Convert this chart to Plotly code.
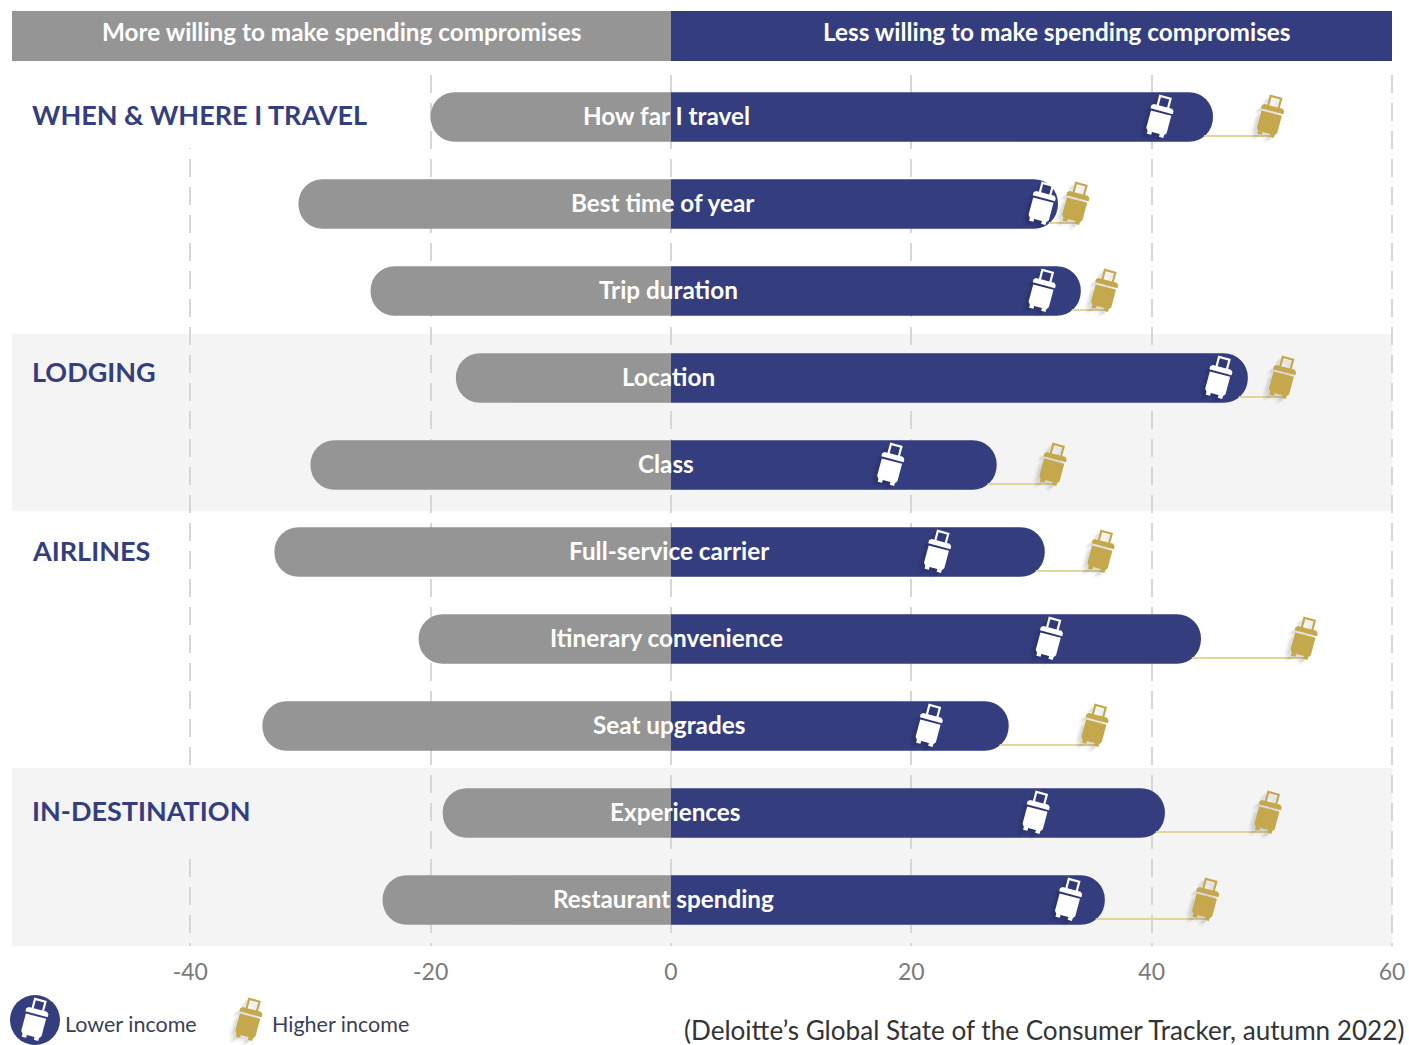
import math
import plotly.graph_objects as go

categories = ["How far I travel", "Best time of year", "Trip duration", "Location", "Class",
              "Full-service carrier", "Itinerary convenience", "Seat upgrades", "Experiences",
              "Restaurant spending"]
more_willing = [-20, -31, -25, -17.9, -30, -33, -21, -34, -19, -24]
less_willing = [45.1, 32.2, 34.1, 48, 27.1, 31.1, 44.1, 28.1, 41.1, 36.1]
lower_income = [40.7, 30.9, 30.9, 45.6, 18.3, 22.2, 31.5, 21.5, 30.4, 33.1]
higher_income = [49.9, 33.7, 36.1, 50.9, 31.8, 35.8, 52.7, 35.3, 49.7, 44.5]
label_x = [-0.4, -0.7, -0.2, -0.2, -0.4, -0.2, -0.4, -0.2, 0.35, -0.6]
tick_vals = [-40, -20, 0, 20, 40, 60]
sections = ["WHEN &amp; WHERE I TRAVEL", "LODGING", "AIRLINES", "IN-DESTINATION"]
section_rows = [-0.03, 2.93, 4.98, 7.97]
header_left = "More willing to make spending compromises"
header_right = "Less willing to make spending compromises"
source = "(Deloitte\u2019s Global State of the Consumer Tracker, autumn 2022)"

GREY = "#959595"
NAVY = "#343e7f"
GOLD = "#c5a84b"
LEAD = "#e2d59b"
BAND = "#f4f4f4"
FONT = "Lato"

W, H, TOP, BOT = 1409, 1045, 75, 946
PPU = 12.017
X0 = 671
xr = [(0 - X0) / PPU, (W - X0) / PPU]
yr = [(BOT - 117) / 87, (TOP - 117) / 87]


def px_x(p):
    return p / W


def px_y(p):
    return (BOT - p) / (BOT - TOP)


def dx(p):
    return (p - X0) / PPU


def dy(p):
    return (p - 117) / 87


def rot(pts, a=-15):
    c, s = math.cos(math.radians(a)), math.sin(math.radians(a))
    return [(x * c - y * s, x * s + y * c) for x, y in pts]


def poly(pts, ox=0, oy=0):
    r = rot(pts)
    return "M" + " L".join(f"{x + ox:.2f},{y + oy:.2f}" for x, y in r) + " Z"


def suitcase_path(ox=0, oy=0):
    body_low = [(-10.5, -14), (-8.5, -16.5), (8.5, -16.5), (10.5, -14), (10.5, 4), (-10.5, 4)]
    body_up = [(-11.5, 6), (11.5, 6), (11.5, 9), (9.5, 11), (-9.5, 11), (-11.5, 9)]
    h_o = [(-6.5, 11), (-6.5, 21.5), (6.5, 21.5), (6.5, 11)]
    h_i = [(-4.3, 11), (-4.3, 19.3), (4.3, 19.3), (4.3, 11)]
    w1 = [(-8.5, -16.5), (-4, -16.5), (-4, -19.5), (-8.5, -19.5)]
    w2 = [(4, -16.5), (8.5, -16.5), (8.5, -19.5), (4, -19.5)]
    return " ".join(poly(p, ox, oy) for p in [body_low, body_up, h_o, h_i, w1, w2])


def suitcase(x, y, color, ref="x", yref="y"):
    out = []
    for off, op in [(7, 0.03), (5, 0.05), (3, 0.06)]:
        out.append(dict(type="path", layer="above", xref=ref, yref=yref, xsizemode="pixel", ysizemode="pixel",
                        xanchor=x, yanchor=y, path=suitcase_path(-off, -off * 0.8), fillcolor="#000000",
                        opacity=op, line=dict(width=0)))
    out.append(dict(type="path", layer="above", xref=ref, yref=yref, xsizemode="pixel", ysizemode="pixel",
                    xanchor=x, yanchor=y, path=suitcase_path(), fillcolor=color, line=dict(width=0)))
    return out


rows = list(range(len(categories)))
fig = go.Figure()

lx, ly = [], []
for i in rows:
    lx += [less_willing[i] - 0.75, higher_income[i], None]
    ly += [i + 0.218, i + 0.218, None]
fig.add_trace(go.Scatter(x=lx, y=ly, mode="lines", line=dict(color=LEAD, width=2), showlegend=False, hoverinfo="skip"))
fig.add_trace(go.Bar(y=rows, x=more_willing, orientation="h", width=0.57, marker=dict(color=GREY, cornerradius=25, line_width=0),
                     name="More willing", showlegend=False))
fig.add_trace(go.Bar(y=rows, x=less_willing, orientation="h", width=0.57, marker=dict(color=NAVY, cornerradius=25, line_width=0),
                     name="Less willing", showlegend=False))

shapes = [
    dict(type="rect", layer="below", xref="x", yref="y", x0=dx(12), x1=60, y0=dy(334), y1=dy(511), fillcolor=BAND, line_width=0),
    dict(type="rect", layer="below", xref="x", yref="y", x0=dx(12), x1=60, y0=dy(768), y1=yr[0], fillcolor=BAND, line_width=0),
    dict(type="rect", layer="between", xref="x", yref="y", x0=dx(20), x1=dx(380), y0=dy(148), y1=dy(75), fillcolor="#ffffff", line_width=0),
    dict(type="rect", layer="between", xref="x", yref="y", x0=dx(20), x1=dx(380), y0=dy(850), y1=dy(768.5), fillcolor=BAND, line_width=0),
    dict(type="rect", layer="above", xref="paper", yref="paper", x0=px_x(12), x1=px_x(671), y0=px_y(61), y1=px_y(11), fillcolor=GREY, line_width=0),
    dict(type="rect", layer="above", xref="paper", yref="paper", x0=px_x(671), x1=px_x(1392), y0=px_y(61), y1=px_y(11), fillcolor=NAVY, line_width=0),
    dict(type="circle", layer="above", xref="paper", yref="paper", xsizemode="pixel", ysizemode="pixel",
         xanchor=px_x(35), yanchor=px_y(1020), x0=-25, x1=25, y0=-25, y1=25, fillcolor=NAVY, line_width=0),
]
for i in rows:
    shapes += suitcase(lower_income[i], i, "#ffffff")
    shapes += suitcase(higher_income[i], i, GOLD)
shapes += suitcase(px_x(35), px_y(1020), "#ffffff", "paper", "paper")[-1:]
shapes += suitcase(px_x(249), px_y(1020), GOLD, "paper", "paper")

annotations = []
for i, c in enumerate(categories):
    annotations.append(dict(x=label_x[i], y=i, xref="x", yref="y", text=c, showarrow=False, yshift=2,
                            font=dict(family=FONT, size=24.3, color="#ffffff", weight=700), xanchor="center", yanchor="middle"))
for s, r in zip(sections, section_rows):
    annotations.append(dict(x=px_x(29.5), y=r, xref="paper", yref="y", text=s, showarrow=False,
                            font=dict(family=FONT, size=27, color=NAVY, weight=700), xanchor="left", yanchor="middle"))
annotations.append(dict(x=px_x(341), y=px_y(32), xref="paper", yref="paper", text=header_left, showarrow=False,
                        font=dict(family=FONT, size=24.3, color="#ffffff", weight=700), xanchor="center", yanchor="middle"))
annotations.append(dict(x=px_x(1056), y=px_y(32), xref="paper", yref="paper", text=header_right, showarrow=False,
                        font=dict(family=FONT, size=24.3, color="#ffffff", weight=700), xanchor="center", yanchor="middle"))
annotations.append(dict(x=px_x(63), y=px_y(1024), xref="paper", yref="paper", text="Lower income", showarrow=False,
                        font=dict(family=FONT, size=21.5, color="#3a3f55"), xanchor="left", yanchor="middle"))
annotations.append(dict(x=px_x(270), y=px_y(1024), xref="paper", yref="paper", text="Higher income", showarrow=False,
                        font=dict(family=FONT, size=21.5, color="#3a3f55"), xanchor="left", yanchor="middle"))
annotations.append(dict(x=px_x(1406), y=px_y(1030), xref="paper", yref="paper", text=source, showarrow=False,
                        font=dict(family=FONT, size=26.1, color="#333333"), xanchor="right", yanchor="middle"))

fig.update_layout(
    width=W, height=H, margin=dict(l=0, r=0, t=TOP, b=H - BOT),
    paper_bgcolor="#ffffff", plot_bgcolor="#ffffff", barmode="overlay", showlegend=False,
    shapes=shapes, annotations=annotations,
    xaxis=dict(range=xr, tickmode="array", tickvals=tick_vals, ticktext=[str(t) for t in tick_vals],
               showgrid=True, gridcolor="#d6d6d6", griddash="18px,10px", gridwidth=2, zeroline=False, showline=False,
               ticks="", tickfont=dict(family=FONT, size=23, color="#7a7a7a"), ticklabelstandoff=10, fixedrange=True),
    yaxis=dict(range=yr, showgrid=False, zeroline=False, showticklabels=False, ticks="", showline=False, fixedrange=True),
)
fig.write_html("out.html", config=dict(displayModeBar=False),
               post_script="document.body.style.margin='0';document.documentElement.style.overflow='hidden';")
